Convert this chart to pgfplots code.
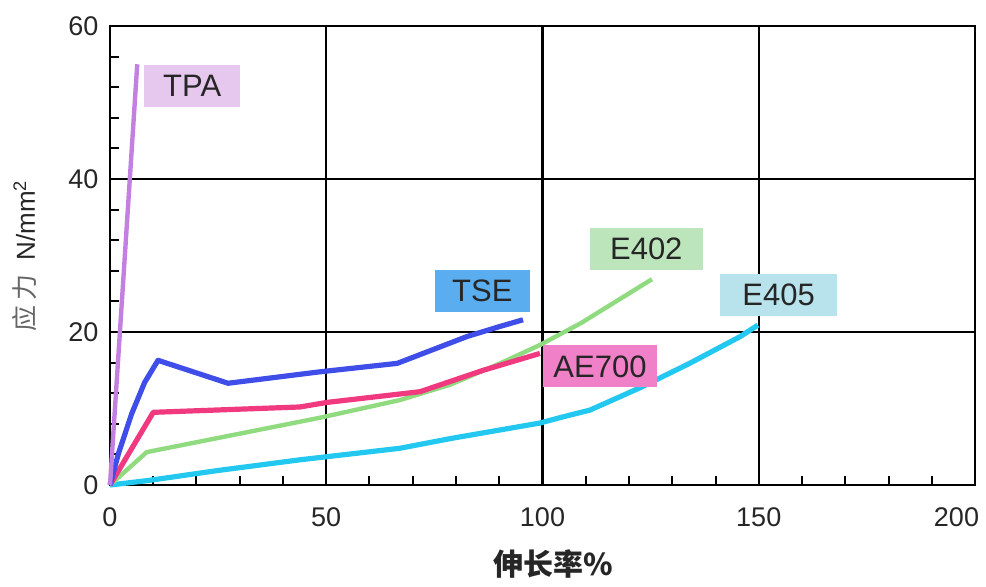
\documentclass[border=0pt]{standalone}
\usepackage{fontspec}
\setmainfont{Liberation Sans}
\newfontfamily\cjk{Noto Sans CJK SC}
\usepackage{pgfplots}
\pgfplotsset{compat=1.18}
\usepackage{xcolor}

\definecolor{tpaline}{HTML}{C480E0}
\definecolor{tpabox}{HTML}{E6C8EE}
\definecolor{tseline}{HTML}{3F4EE8}
\definecolor{tsebox}{HTML}{5AAEF0}
\definecolor{aeline}{HTML}{F0397F}
\definecolor{aebox}{HTML}{F080C8}
\definecolor{egline}{HTML}{90DB80}
\definecolor{egbox}{HTML}{BCE5BC}
\definecolor{ecline}{HTML}{22C8F0}
\definecolor{ecbox}{HTML}{B8E2EC}

\tikzset{label box/.style={font=\fontsize{15.5}{16}\selectfont, text=black!85,
    minimum height=21pt, inner sep=0pt, anchor=center}}

\begin{document}
\begin{tikzpicture}
\useasboundingbox (-55pt,-50.5pt) rectangle (438pt,242.5pt);
\begin{axis}[
    scale only axis,
    width=432.5pt,
    height=229.5pt,
    xmin=0, xmax=200,
    ymin=0, ymax=60,
    xtick={0,50,100,150,200},
    xticklabels={0,50,100,150,{\hspace*{-18.5pt}200}},
    ytick={0,20,40,60},
    minor x tick num=4,
    minor y tick num=4,
    grid=major,
    major grid style={black, line width=1.1pt},
    axis line style={line width=1.2pt},
    tick pos=left,
    tick align=inside,
    major tick length=0pt,
    minor tick length=4.5pt,
    minor tick style={black, line width=1pt},
    /pgf/number format/assume math mode=true,
    tick label style={font=\fontsize{13.5}{14}\selectfont, text=black!85},
    yticklabel style={xshift=-2.3pt},
    xticklabel style={yshift=-8pt},
    clip=false,
]

% E405
\addplot[ecline, line width=2.6pt, line join=round] coordinates {
    (0,0) (9,0.6) (25,1.9) (44,3.3) (67,4.8) (79,6.1) (99.4,8.1) (104,8.8)
    (111,9.8) (122.5,12.7) (134,15.9) (145.7,19.4) (149.8,20.9)
};

% E402
\addplot[egline, line width=2.2pt, line join=round] coordinates {
    (0,0) (8.5,4.3) (48.6,8.8) (67,11.1) (78.6,13.1) (90.2,15.9)
    (99.4,18.3) (109,21.2) (125.3,26.9)
};

% AE700
\addplot[aeline, line width=2.6pt, line join=round] coordinates {
    (0,0) (10,9.5) (43.9,10.2) (50.2,10.8) (71.7,12.2) (86.3,15.0) (99.4,17.2)
};

% TSE
\addplot[tseline, line width=2.6pt, line join=round] coordinates {
    (0,0) (2,4.2) (5,9.3) (8,13.4) (11.1,16.3) (27.3,13.3) (48.6,14.8) (66.4,15.9)
    (82.5,19.4) (90,20.7) (95.5,21.6)
};

% TPA
\addplot[tpaline, line width=2.2pt] coordinates {
    (0,0) (6.3,55)
};

% series labels
\node[label box, fill=tpabox, minimum width=48pt] at (axis cs:19,52.2) {TPA};
\node[label box, fill=tsebox, minimum width=47.5pt] at (axis cs:86.1,25.4) {TSE};
\node[label box, fill=egbox, minimum width=56.5pt] at (axis cs:124,30.85) {E402};
\node[label box, fill=aebox, minimum width=57pt] at (axis cs:113.3,15.5) {AE700};
\node[label box, fill=ecbox, minimum width=58.5pt] at (axis cs:154.6,24.85) {E405};

% axis titles
\node[font=\cjk\fontsize{15}{16}\selectfont\bfseries, text=black!85] at (axis cs:102.4,-10.33) {伸长率\%};
\node[rotate=90, font=\fontsize{13}{14}\selectfont, text=black!85] at (axis cs:-19.65,30)
    {{\cjk\color{black!60}应\,力}\ \ N/mm\textsuperscript{2}};

\end{axis}
\end{tikzpicture}
\end{document}
